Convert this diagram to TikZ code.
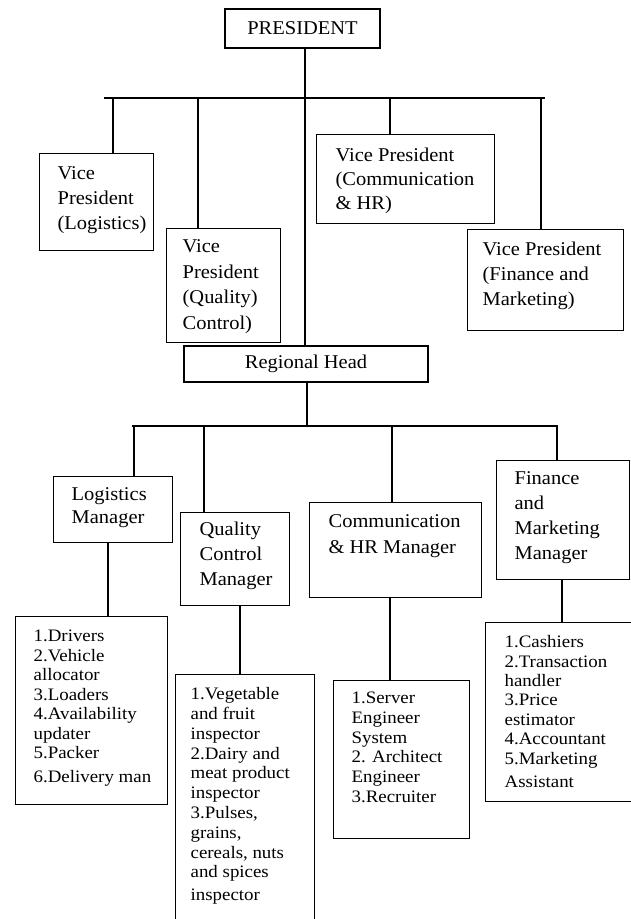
\documentclass[tikz,border=0pt]{standalone}
\usepackage{fontspec}
\newfontfamily\mainf[FakeStretch=1.05]{Liberation Serif}
\newfontfamily\listf[FakeStretch=1.08]{Liberation Serif}
\newcommand\mf[1]{\mainf\fontsize{19.5pt}{#1pt}\selectfont}
\newcommand\lf[1]{\listf\fontsize{17.5pt}{#1pt}\selectfont}
% width, height, left pad, first baseline, text
\newcommand\bt[5]{\parbox[c][#2pt][t]{#1pt}{\raggedright\leftskip=#3pt\relax\rule{0pt}{#4pt}#5}}
\tikzset{
  bx/.style={draw, line width=1.3pt, inner sep=0pt, anchor=north west},
  cbx/.style={draw, line width=1.3pt, inner sep=0pt},
  ln/.style={line width=1.3pt},
}
\begin{document}
\begin{tikzpicture}[x=1pt,y=-1pt]
\useasboundingbox (0,0) rectangle (631,919);
\fill[white] (0,0) rectangle (631,919);

% top level
\node[cbx, minimum width=155pt, minimum height=39pt, font=\mf{25}] (pres) at (302.5,28.5) {PRESIDENT};

% vice presidents
\node[bx, font=\mf{25}]   (vpl) at (39,153)  {\bt{114}{97}{18}{26}{Vice\\President\\(Logistics)}};
\node[bx, font=\mf{25.5}] (vpq) at (166,228) {\bt{114}{114}{16}{24}{Vice\\President\\(Quality)\\Control)}};
\node[bx, font=\mf{24}]   (vpc) at (316,134) {\bt{178}{89}{19}{27}{Vice President\\(Communication\\\& HR)}};
\node[bx, font=\mf{25}]   (vpf) at (467,229) {\bt{156}{101}{15}{26}{Vice President\\(Finance and\\Marketing)}};

% regional head
\node[cbx, minimum width=244pt, minimum height=36pt, font=\mf{25}] (rh) at (306,364) {Regional Head};

% managers
\node[bx, font=\mf{23}] (lm)  at (53,476)  {\bt{119}{66}{18}{24}{Logistics\\Manager}};
\node[bx, font=\mf{25}] (qcm) at (180,512) {\bt{109}{93}{19}{23}{Quality\\Control\\Manager}};
\node[bx, font=\mf{26}] (chm) at (309,502) {\bt{172}{95}{19}{25}{Communication\\\& HR Manager}};
\node[bx, font=\mf{25}] (fmm) at (496,460) {\bt{133}{119}{18}{24}{Finance\\and\\Marketing\\Manager}};

% staff lists
\node[bx, font=\lf{19.5}] (l1) at (15,616)  {\bt{152}{188}{18}{25}{1.Drivers\\2.Vehicle\\allocator\\3.Loaders\\4.Availability\\updater\\5.Packer\\[4pt]6.Delivery man}};
\node[bx, font=\lf{19.8}] (l2) at (175,674) {\bt{139}{256}{15}{25}{1.Vegetable\\and fruit\\inspector\\2.Dairy and\\meat product\\inspector\\3.Pulses,\\grains,\\cereals, nuts\\and spices\\[3pt]inspector}};
\node[bx, font=\lf{19.7}] (l3) at (333,680) {\bt{136}{158}{18}{23}{1.Server\\Engineer\\System\\2. Architect\\Engineer\\3.Recruiter}};
\node[bx, font=\lf{19.4}] (l4) at (485,622) {\bt{146}{179}{19}{25}{1.Cashiers\\2.Transaction\\handler\\3.Price\\estimator\\4.Accountant\\5.Marketing\\[4pt]Assistant}};

% connector reference points
\coordinate (trunk) at (305,0);
\coordinate (bus1L) at (104,98);
\coordinate (bus1R) at (545,98);
\coordinate (d1) at (113,98);
\coordinate (d2) at (198,98);
\coordinate (d3) at (390,98);
\coordinate (d4) at (541,98);
\coordinate (r0) at (307,426);
\coordinate (bus2L) at (132,426);
\coordinate (bus2R) at (558,426);
\coordinate (r1) at (134,426);
\coordinate (r2) at (204,426);
\coordinate (r3) at (392,426);
\coordinate (r4) at (557,426);
\coordinate (m1) at (108,0);
\coordinate (m2) at (240,0);
\coordinate (m3) at (390,0);
\coordinate (m4) at (562,0);

% connectors, level 1
\draw[ln] (pres.south -| trunk) -- (rh.north -| trunk);
\draw[ln] (bus1L) -- (bus1R);
\draw[ln] (d1) -- (d1 |- vpl.north);
\draw[ln] (d2) -- (d2 |- vpq.north);
\draw[ln] (d3) -- (d3 |- vpc.north);
\draw[ln] (d4) -- (d4 |- vpf.north);

% connectors, level 2
\draw[ln] (rh.south -| r0) -- (r0);
\draw[ln] (bus2L) -- (bus2R);
\draw[ln] (r1) -- (r1 |- lm.north);
\draw[ln] (r2) -- (r2 |- qcm.north);
\draw[ln] (r3) -- (r3 |- chm.north);
\draw[ln] (r4) -- (r4 |- fmm.north);

% connectors, level 3
\draw[ln] (lm.south -| m1) -- (l1.north -| m1);
\draw[ln] (qcm.south -| m2) -- (l2.north -| m2);
\draw[ln] (chm.south -| m3) -- (l3.north -| m3);
\draw[ln] (fmm.south -| m4) -- (l4.north -| m4);
\end{tikzpicture}
\end{document}
